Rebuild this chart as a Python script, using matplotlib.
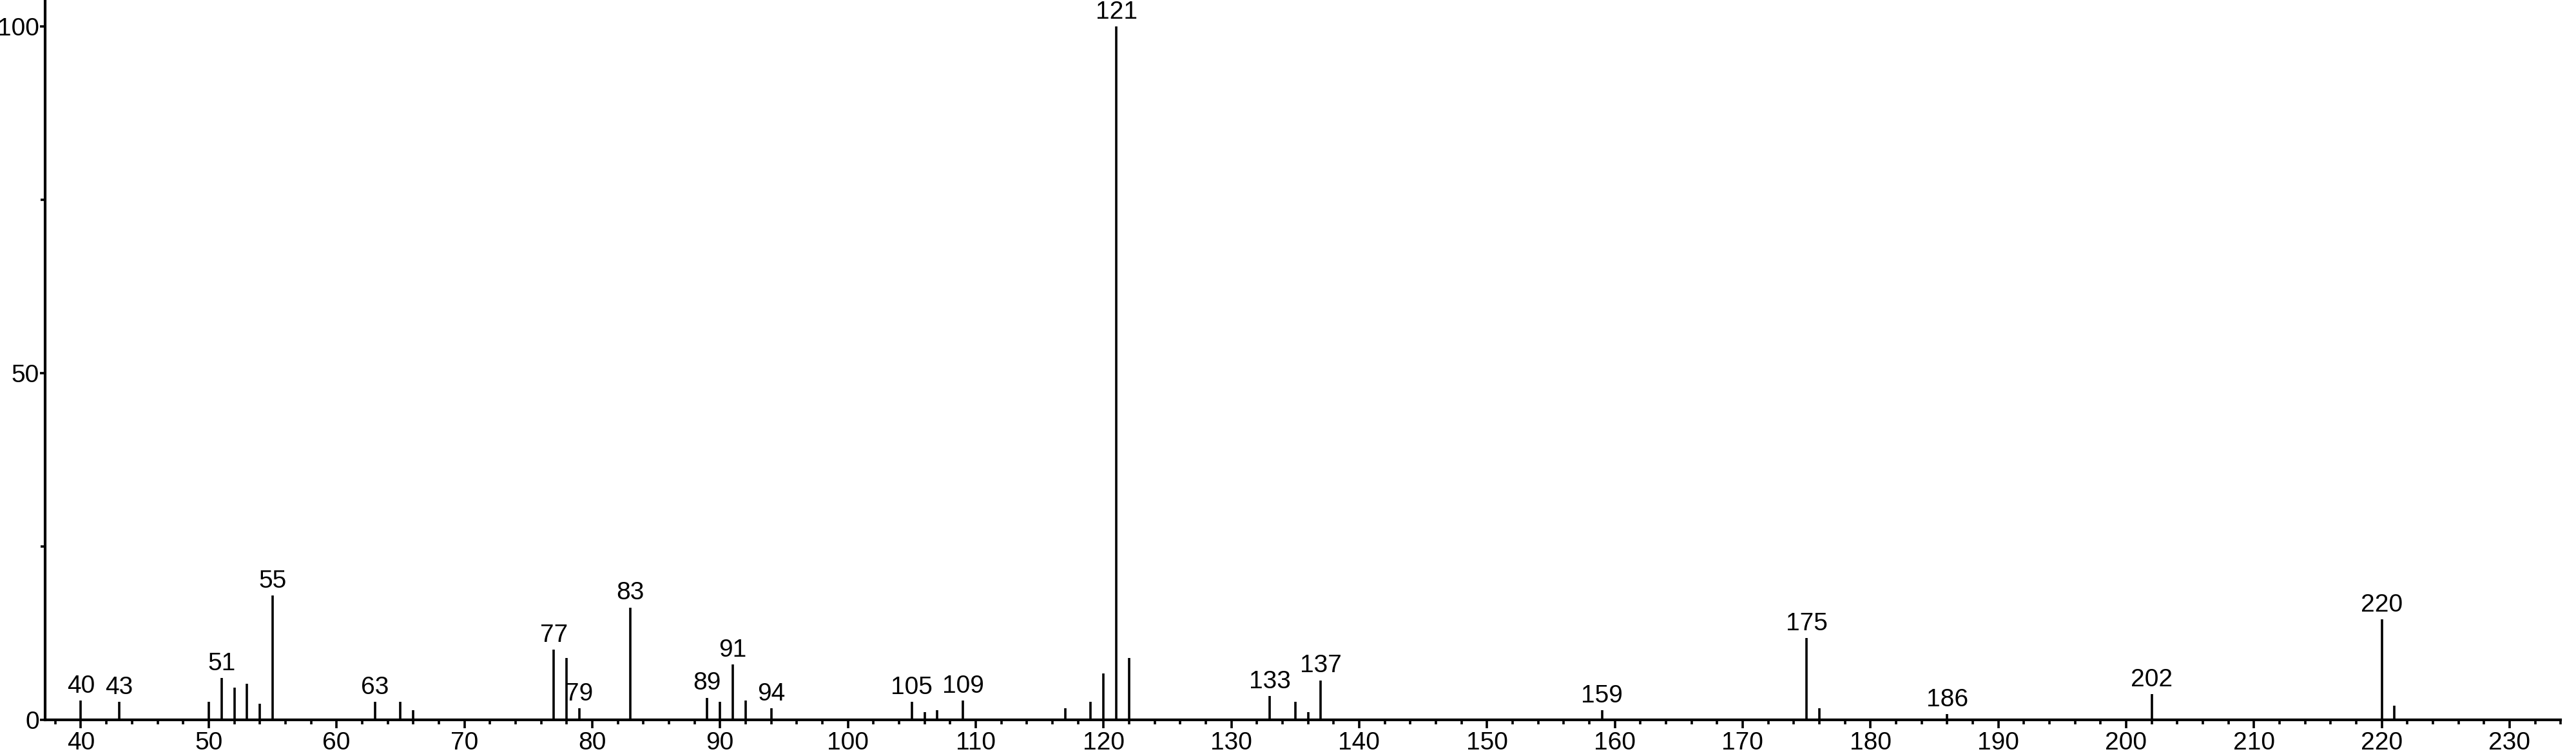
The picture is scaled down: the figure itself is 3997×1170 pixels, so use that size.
import matplotlib
matplotlib.use("Agg")
import matplotlib.pyplot as plt
from matplotlib.ticker import MultipleLocator

plt.rcParams['font.family'] = ['Liberation Sans Narrow', 'Liberation Sans', 'DejaVu Sans']

# m/z and relative intensity
mz = [40, 43, 50, 51, 52, 53, 54, 55, 63, 65, 66,
      77, 78, 79, 83, 89, 90, 91, 92, 94,
      105, 106, 107, 109, 117, 119, 120, 121, 122,
      133, 135, 136, 137, 159, 175, 176, 186, 202, 220, 221]
intensity = [2.8, 2.6, 2.6, 6.0, 4.6, 5.2, 2.3, 17.9, 2.6, 2.6, 1.4,
             10.1, 8.9, 1.7, 16.2, 3.2, 2.6, 8.0, 2.8, 1.7,
             2.6, 1.1, 1.4, 2.8, 1.7, 2.6, 6.7, 100.0, 8.9,
             3.4, 2.6, 1.1, 5.7, 1.4, 11.8, 1.7, 0.8, 3.7, 14.5, 2.0]
labeled = [40, 43, 51, 55, 63, 77, 79, 83, 89, 91, 94, 105, 109, 121,
           133, 137, 159, 175, 186, 202, 220]

fig = plt.figure(figsize=(39.98, 11.70), dpi=100)
ax = fig.add_axes([0.0175, 0.0453, 0.9763, 0.953])

ax.vlines(mz, 0, intensity, colors='black', linewidth=2.6)

for m, h in zip(mz, intensity):
    if m in labeled:
        ax.annotate(str(m), (m, h), xytext=(0, 3), textcoords='offset points',
                    ha='center', va='bottom', fontsize=28)

ax.set_xlim(37.2, 234)
ax.set_ylim(0, 103.6)

ax.xaxis.set_major_locator(MultipleLocator(10))
ax.xaxis.set_minor_locator(MultipleLocator(2))
ax.set_yticks([0, 50, 100])
ax.yaxis.set_minor_locator(MultipleLocator(25))

ax.spines['top'].set_visible(False)
ax.spines['right'].set_visible(False)
ax.spines['left'].set_linewidth(3)
ax.spines['bottom'].set_linewidth(3)

ax.tick_params(axis='x', which='major', length=9, width=2.6, pad=4, labelsize=28)
ax.tick_params(axis='x', which='minor', length=5, width=2.6)
ax.tick_params(axis='y', which='major', length=6, width=2.6, pad=0.5, labelsize=28)
ax.tick_params(axis='y', which='minor', length=5, width=2.6)

fig.savefig("out.png", dpi=100)
